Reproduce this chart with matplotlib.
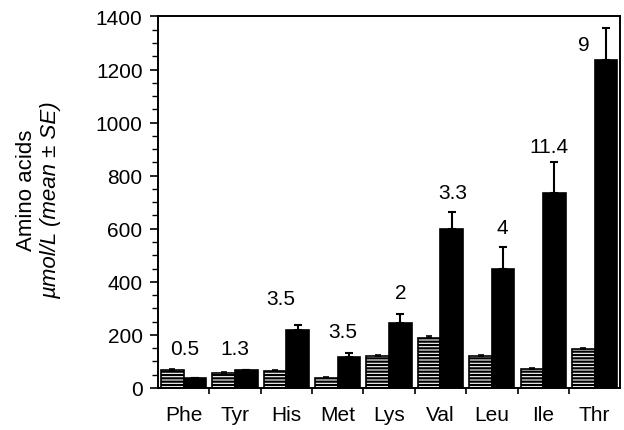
import numpy as np
import matplotlib
matplotlib.use("Agg")
import matplotlib.pyplot as plt
from matplotlib.ticker import MultipleLocator

# data
amino = ["Phe", "Tyr", "His", "Met", "Lys", "Val", "Leu", "Ile", "Thr"]
control = [68, 55, 65, 36, 120, 190, 120, 72, 145]
control_se = [4, 4, 4, 4, 5, 6, 5, 4, 5]
treated = [38, 68, 220, 115, 245, 598, 450, 735, 1235]
treated_se = [0, 0, 16, 16, 35, 66, 82, 115, 120]
ratio = ["0.5", "1.3", "3.5", "3.5", "2", "3.3", "4", "11.4", "9"]
ratio_y = [147, 147, 337, 214, 358, 737, 603, 910, 1295]

# label placement (offset from group centre, in category units)
ratio_dx = [0.03, 0.0, -0.1, 0.1, 0.22, 0.23, 0.2, 0.12, -0.2]

plt.rcParams["font.family"] = ["Liberation Sans", "DejaVu Sans"]
plt.rcParams["hatch.linewidth"] = 1.6

fig = plt.figure(figsize=(6.24, 4.31), dpi=100)
ax = fig.add_axes([0.253, 0.0975, 0.741, 0.862])

x = np.arange(len(amino))
w = 0.44

ax.bar(x - w / 2, control, width=w, color="white", edgecolor="black",
       hatch="-----", linewidth=1.2,
       yerr=[np.zeros(len(x)), control_se], capsize=2,
       error_kw=dict(elinewidth=1.2, capthick=1.2, ecolor="black"))
ax.bar(x + w / 2, treated, width=w, color="black", edgecolor="black",
       linewidth=1.2,
       yerr=[np.zeros(len(x)), treated_se], capsize=3.2,
       error_kw=dict(elinewidth=1.5, capthick=1.5, ecolor="black"))

for i, (lab, yy) in enumerate(zip(ratio, ratio_y)):
    ax.text(i + ratio_dx[i], yy, lab, ha="center", va="center", fontsize=15)

ax.set_xlim(-0.5, len(amino) - 0.5)
ax.set_ylim(0, 1400)
ax.yaxis.set_major_locator(MultipleLocator(200))
ax.yaxis.set_minor_locator(MultipleLocator(50))
ax.set_xticks(x)
ax.set_xticklabels(amino, fontsize=15)
ax.set_xticks(x[:-1] + 0.5, minor=True)
ax.tick_params(axis="x", which="major", length=0, pad=12)
ax.tick_params(axis="x", which="minor", length=4, width=1.2, direction="out")
ax.tick_params(axis="y", which="major", length=6, width=1.2, labelsize=15, pad=5)
ax.tick_params(axis="y", which="minor", length=4, width=1.0)
for s in ax.spines.values():
    s.set_linewidth(1.4)

ax.text(-0.285, 0.536, "Amino acids", transform=ax.transAxes, rotation=90,
        ha="center", va="center", fontsize=16)
ax.text(-0.232, 0.509, "\u00b5mol/L (mean \u00b1 SE)", transform=ax.transAxes,
        rotation=90, ha="center", va="center", fontsize=16, style="italic")

fig.savefig("out.png", dpi=100)
